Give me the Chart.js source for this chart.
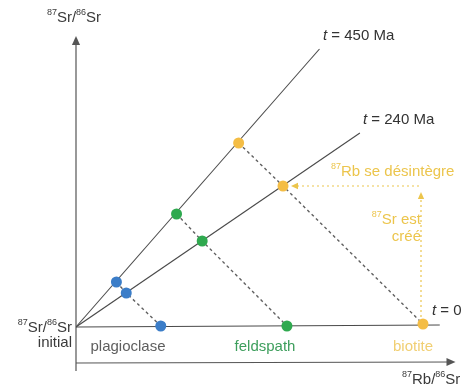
<!DOCTYPE html>
<html>
<head>
<meta charset="utf-8">
<script src="https://cdn.jsdelivr.net/npm/chart.js@4/dist/chart.umd.min.js"></script>
<style>
  html, body { margin: 0; padding: 0; background: #fff; }
  #wrap { width: 461px; height: 389px; }
</style>
</head>
<body>
<div id="wrap"><canvas id="isochron"></canvas></div>
<script>
// minerals and their colours
const minerals = ['plagioclase', 'feldspath', 'biotite'];
const mineralColors = ['#3b7dc8', '#2fa94f', '#f4bd45'];
const labelColors = ['#5e5e5e', '#3d9e5c', '#f1cf72'];

// 87Rb/86Sr and 87Sr/86Sr, at t = 450 Ma, 240 Ma and today
const srInitial = 0.70;
const rbSr450 = [0.41, 1.02, 1.65];
const srSr450 = [0.7045, 0.7113, 0.7184];
const rbSr240 = [0.51, 1.28, 2.10];
const srSr240 = [0.7034, 0.7086, 0.7141];
const rbSr0 = [0.86, 2.14, 3.52];
const srSr0 = [0.7001, 0.7001, 0.7003];

// isochron ends
const isoAges = ['t = 450 Ma', 't = 240 Ma', 't = 0'];
const isoEndX = [2.47, 2.88, 3.69];
const isoEndY = [0.7278, 0.7194, 0.7002];

const GREY = '#4a4a4a';
const YELLOW = '#ecc54c';
const FONT = '"Liberation Sans", Arial, sans-serif';
const FS = 15;

const datasets = [];

// mineral points (on top)
minerals.forEach((m, i) => {
    datasets.push({
        type: 'scatter',
        label: m,
        data: [
            { x: rbSr450[i], y: srSr450[i] },
            { x: rbSr240[i], y: srSr240[i] },
            { x: rbSr0[i], y: srSr0[i] }
        ],
        backgroundColor: mineralColors[i],
        borderWidth: 0,
        pointRadius: 5.5,
        order: 0
    });
});

// evolution of each mineral: dashed
minerals.forEach((m, i) => {
    datasets.push({
        type: 'line',
        label: m + ' evolution',
        data: [
            { x: rbSr450[i], y: srSr450[i] },
            { x: rbSr240[i], y: srSr240[i] },
            { x: rbSr0[i], y: srSr0[i] }
        ],
        borderColor: '#606060',
        borderWidth: 1.4,
        borderDash: [3, 3],
        pointRadius: 0,
        fill: false,
        order: 2
    });
});

// isochrons
isoAges.forEach((a, i) => {
    datasets.push({
        type: 'line',
        label: a,
        data: [{ x: 0, y: srInitial }, { x: isoEndX[i], y: isoEndY[i] }],
        borderColor: GREY,
        borderWidth: 1.1,
        pointRadius: 0,
        fill: false,
        order: 3
    });
});

function richText(ctx, parts, x, y, size, color, align) {
    // parts: [text, isSuperscript]
    const widths = parts.map(p => {
        ctx.font = (p[1] ? Math.round(size * 0.6) : size) + 'px ' + FONT;
        return ctx.measureText(p[0]).width;
    });
    const total = widths.reduce((a, b) => a + b, 0);
    let cx = align === 'right' ? x - total : align === 'center' ? x - total / 2 : x;
    ctx.fillStyle = color;
    ctx.textBaseline = 'middle';
    ctx.textAlign = 'left';
    parts.forEach((p, k) => {
        ctx.font = (p[1] ? Math.round(size * 0.6) : size) + 'px ' + FONT;
        ctx.fillText(p[0], cx, p[1] ? y - size * 0.35 : y);
        cx += widths[k];
    });
}

function ageLabel(ctx, rest, x, y) {
    ctx.fillStyle = '#333';
    ctx.textBaseline = 'middle';
    ctx.textAlign = 'left';
    ctx.font = 'italic ' + FS + 'px ' + FONT;
    ctx.fillText('t', x, y);
    const w = ctx.measureText('t ').width;
    ctx.font = FS + 'px ' + FONT;
    ctx.fillText(rest, x + w, y);
}

function arrowHead(ctx, x, y, dir, size, color) {
    ctx.save();
    ctx.fillStyle = color;
    ctx.translate(x, y);
    ctx.rotate(dir);
    ctx.beginPath();
    ctx.moveTo(0, 0);
    ctx.lineTo(-size, -size * 0.45);
    ctx.lineTo(-size, size * 0.45);
    ctx.closePath();
    ctx.fill();
    ctx.restore();
}

const decor = {
    id: 'decor',
    beforeDatasetsDraw(chart) {
        const { ctx, chartArea: ca, scales } = chart;
        const sx = scales.x, sy = scales.y;
        ctx.save();
        // axes with arrows
        ctx.strokeStyle = '#555';
        ctx.lineWidth = 1.2;
        ctx.beginPath();
        ctx.moveTo(ca.left, ca.bottom + 8);
        ctx.lineTo(ca.left, ca.top + 4);
        ctx.moveTo(ca.left, ca.bottom);
        ctx.lineTo(ca.right - 4, ca.bottom - 1);
        ctx.stroke();
        arrowHead(ctx, ca.left, ca.top - 4, -Math.PI / 2, 9, '#555');
        arrowHead(ctx, ca.right, ca.bottom - 1, 0, 9, '#555');

        // yellow dotted arrows: Rb decays, Sr is created
        const yB = sy.getPixelForValue(srSr240[2]);
        const xV = sx.getPixelForValue(3.50);
        ctx.strokeStyle = YELLOW;
        ctx.lineWidth = 1.2;
        ctx.setLineDash([2, 3]);
        ctx.beginPath();
        ctx.moveTo(xV - 2, yB);
        ctx.lineTo(sx.getPixelForValue(rbSr240[2]) + 14, yB);
        ctx.moveTo(xV, sy.getPixelForValue(srInitial));
        ctx.lineTo(xV, yB + 12);
        ctx.stroke();
        ctx.setLineDash([]);
        arrowHead(ctx, sx.getPixelForValue(rbSr240[2]) + 8, yB, Math.PI, 7, YELLOW);
        arrowHead(ctx, xV, yB + 6, -Math.PI / 2, 7, YELLOW);
        ctx.restore();
    },
    afterDatasetsDraw(chart) {
        const { ctx, scales } = chart;
        const sy = scales.y;
        ctx.save();
        // axis titles
        richText(ctx, [['87', true], ['Sr/', false], ['86', true], ['Sr', false]], 74, 18, FS, '#3a3a3a', 'center');
        richText(ctx, [['87', true], ['Rb/', false], ['86', true], ['Sr', false]], 402, 380, FS, '#3a3a3a', 'left');
        const y0 = sy.getPixelForValue(srInitial);
        richText(ctx, [['87', true], ['Sr/', false], ['86', true], ['Sr', false]], 72, y0 + 1, FS, '#3a3a3a', 'right');
        richText(ctx, [['initial', false]], 72, y0 + 16, FS, '#3a3a3a', 'right');

        // mineral names
        const nameX = [128, 265, 413];
        minerals.forEach((m, i) => {
            richText(ctx, [[m, false]], nameX[i], y0 + 20, FS, labelColors[i], 'center');
        });

        // isochron labels
        ageLabel(ctx, '= 450 Ma', 323, 36);
        ageLabel(ctx, '= 240 Ma', 363, 120);
        ageLabel(ctx, '= 0', 432, 311);

        // yellow notes
        richText(ctx, [['87', true], ['Rb se désintègre', false]], 331, 172, FS, YELLOW, 'left');
        richText(ctx, [['87', true], ['Sr est', false]], 421, 220, FS, YELLOW, 'right');
        richText(ctx, [['créé', false]], 421, 237, FS, YELLOW, 'right');
        ctx.restore();
    }
};

new Chart(document.getElementById('isochron'), {
    type: 'scatter',
    data: { datasets: datasets },
    options: {
        responsive: true,
        maintainAspectRatio: false,
        animation: false,
        layout: { padding: { left: 76, right: 0, top: 40, bottom: 26 } },
        plugins: { legend: { display: false }, tooltip: { enabled: false } },
        elements: { line: { tension: 0 } },
        scales: {
            x: { type: 'linear', min: 0, max: 3.85, display: false },
            y: { type: 'linear', min: 0.6964, max: 0.7287, display: false }
        }
    },
    plugins: [decor]
});
</script>
</body>
</html>
